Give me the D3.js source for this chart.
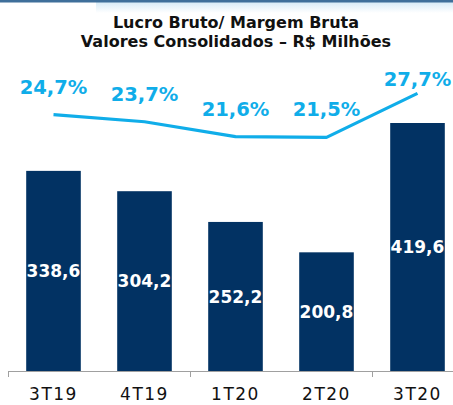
<!DOCTYPE html>
<html><head><meta charset="utf-8">
<script src="https://cdn.jsdelivr.net/npm/d3@7"></script>
<style>html,body{margin:0;padding:0;background:#fff;overflow:hidden}</style>
</head><body>
<svg id="c" width="453" height="405"></svg>
<script>
const categories = ["3T19","4T19","1T20","2T20","3T20"];
const lucroBruto = [338.6, 304.2, 252.2, 200.8, 419.6];
const margemBruta = [24.7, 23.7, 21.6, 21.5, 27.7];
const titleLines = ["Lucro Bruto/ Margem Bruta", "Valores Consolidados – R$ Milhões"];

const fmt = v => v.toFixed(1).replace(".", ",");
const svg = d3.select("#c");
const W = 453, H = 405;
const barColor = "#023263", lineColor = "#10ade9";
const font = "'DejaVu Sans', sans-serif";

// top banner
const defs = svg.append("defs");
const g = defs.append("linearGradient").attr("id","bn").attr("x1",0).attr("x2",0).attr("y1",0).attr("y2",1);
g.append("stop").attr("offset",0).attr("stop-color","#d7ebf7");
g.append("stop").attr("offset",1).attr("stop-color","#ffffff");
svg.append("rect").attr("x",96).attr("y",2).attr("width",W-96).attr("height",11).attr("fill","url(#bn)");
svg.append("rect").attr("x",0).attr("y",0).attr("width",W).attr("height",2.5).attr("fill","#3f6f9a");

// title
svg.append("g").selectAll("text").data(titleLines).join("text")
  .attr("x",236).attr("y",(d,i)=>28+i*19)
  .attr("text-anchor","middle").attr("font-family",font).attr("font-weight",700)
  .attr("font-size",16).attr("fill","#111").text(d=>d);

const x = d3.scaleBand().domain(categories).range([8,463]).paddingInner(0.4).paddingOuter(0.2);
const y = d3.scaleLinear().domain([0,419.6]).range([371,123]);
const yM = d3.scaleLinear().domain([20,30]).range([148,77]);

// bars
svg.append("g").selectAll("rect").data(categories).join("rect")
  .attr("x",d=>x(d)).attr("width",x.bandwidth())
  .attr("y",(d,i)=>y(lucroBruto[i])).attr("height",(d,i)=>y(0)-y(lucroBruto[i]))
  .attr("fill",barColor);

svg.append("g").selectAll("text").data(categories).join("text")
  .attr("x",d=>x(d)+x.bandwidth()/2)
  .attr("y",(d,i)=>(y(lucroBruto[i])+y(0))/2)
  .attr("dy","0.36em").attr("text-anchor","middle")
  .attr("font-family",font).attr("font-weight",700).attr("font-size",17)
  .attr("fill","#fff").text((d,i)=>fmt(lucroBruto[i]));

// axis
const step = x.step();
const ax = svg.append("g").attr("stroke","#a0a0a0").attr("stroke-width",1);
ax.append("line").attr("x1",8).attr("x2",W).attr("y1",371.5).attr("y2",371.5);
[0,2,4].forEach(k=>{
  const tx = Math.round(x(categories[k]) - step*0.2) + 0.5;
  ax.append("line").attr("x1",tx).attr("x2",tx).attr("y1",371).attr("y2",377);
});
svg.append("g").selectAll("text").data(categories).join("text")
  .attr("x",d=>x(d)+x.bandwidth()/2).attr("y",400)
  .attr("text-anchor","middle").attr("font-family",font).attr("font-size",17)
  .attr("letter-spacing",1.5)
  .attr("fill","#111").text(d=>d);

// margin line
const line = d3.line().x((d,i)=>x(categories[i])+x.bandwidth()/2).y(d=>yM(d));
svg.append("path").datum(margemBruta).attr("d",line)
  .attr("fill","none").attr("stroke",lineColor).attr("stroke-width",3.2).attr("stroke-linejoin","round");

svg.append("g").selectAll("text").data(margemBruta).join("text")
  .attr("x",(d,i)=>x(categories[i])+x.bandwidth()/2)
  .attr("y",d=>Math.max(yM(d)-21, 86))
  .attr("text-anchor","middle").attr("font-family",font).attr("font-weight",700)
  .attr("font-size",19.5).attr("fill",lineColor).text(d=>fmt(d)+"%");
</script>
</body></html>
